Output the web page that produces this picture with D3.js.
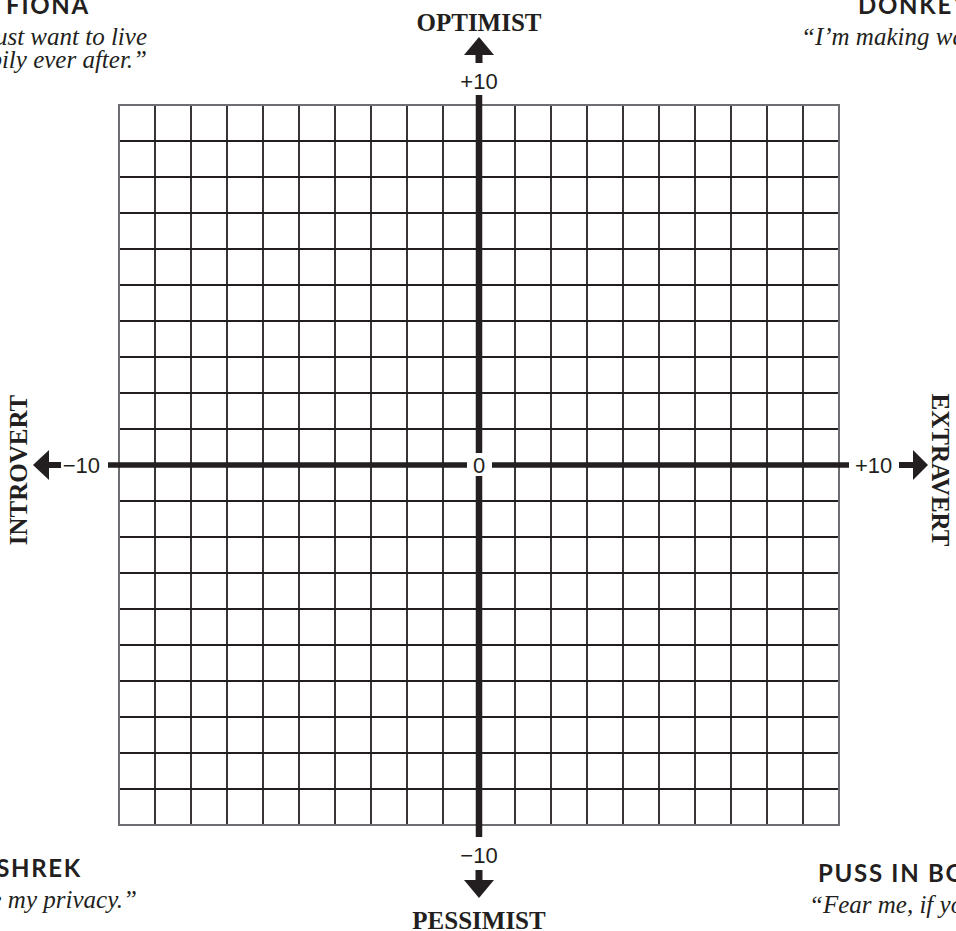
<!DOCTYPE html>
<html>
<head>
<meta charset="utf-8">
<script src="https://cdn.jsdelivr.net/npm/d3@7"></script>
<style>
  body { margin: 0; background: #fff; }
  svg { display: block; }
</style>
</head>
<body>
<script>
// grid values, one line per unit
const gridValues = [-10, -9, -8, -7, -6, -5, -4, -3, -2, -1, 0, 1, 2, 3, 4, 5, 6, 7, 8, 9, 10]
// end tick labels on each axis
const tickValues = [-10, 10]
const tickLabels = ["\u221210", "+10"]
const centerLabel = "0"
// pole names: top, bottom, left, right
const poleLabels = ["OPTIMIST", "PESSIMIST", "INTROVERT", "EXTRAVERT"]
// characters placed in the corners
const characters = ["FIONA", "DONKEY", "SHREK", "PUSS IN BOOTS"]
const quotes = [
  ["\u201CI just want to live", "happily ever after.\u201D"],
  ["\u201CI\u2019m making waffles!\u201D"],
  ["\u201CI like my privacy.\u201D"],
  ["\u201CFear me, if you dare!\u201D"]
]

const W = 956, H = 931
const margin = {top: 105, left: 119}
const size = 720
const ink = '#231f20'
const nameFont = 'Lato, "DejaVu Sans", sans-serif'
const quoteFont = '"Liberation Serif", serif'
const poleFont = '"Liberation Serif", serif'
const tickFont = '"Liberation Sans", Arial, sans-serif'

const x = d3.scaleLinear().domain([-10, 10]).range([margin.left, margin.left + size])
const y = d3.scaleLinear().domain([-10, 10]).range([margin.top + size, margin.top])

const svg = d3.select('body').append('svg')
  .attr('width', W)
  .attr('height', H)

// inner grid
const inner = gridValues.filter(v => Math.abs(v) < 10)
svg.append('g').selectAll('line')
  .data(inner)
  .enter().append('line')
  .attr('x1', d => x(d)).attr('x2', d => x(d))
  .attr('y1', y(10)).attr('y2', y(-10))
  .attr('stroke', ink).attr('stroke-width', 1.8)
svg.append('g').selectAll('line')
  .data(inner)
  .enter().append('line')
  .attr('y1', d => y(d)).attr('y2', d => y(d))
  .attr('x1', x(-10)).attr('x2', x(10))
  .attr('stroke', ink).attr('stroke-width', 1.8)

// grey border
svg.append('rect')
  .attr('x', x(-10)).attr('y', y(10))
  .attr('width', x(10) - x(-10)).attr('height', y(-10) - y(10))
  .attr('fill', 'none').attr('stroke', '#6d6e71').attr('stroke-width', 2)

// thick axes
svg.append('line')
  .attr('x1', x(0)).attr('x2', x(0))
  .attr('y1', y(10) - 10).attr('y2', y(-10) + 12)
  .attr('stroke', ink).attr('stroke-width', 6.5)
svg.append('line')
  .attr('y1', y(0)).attr('y2', y(0))
  .attr('x1', x(-10) - 11).attr('x2', x(10) + 10)
  .attr('stroke', ink).attr('stroke-width', 5.5)

// white box behind the 0
svg.append('rect')
  .attr('x', x(0) - 12).attr('y', y(0) - 12)
  .attr('width', 25).attr('height', 23)
  .attr('fill', '#fff')
svg.append('text')
  .attr('x', x(0)).attr('y', y(0) + 8)
  .attr('text-anchor', 'middle')
  .style('font', `22px ${tickFont}`).attr('fill', ink)
  .text(centerLabel)

// arrows
const arrows = svg.append('g').attr('fill', ink)
// up
arrows.append('rect').attr('x', x(0) - 3.5).attr('y', y(10) - 51).attr('width', 7).attr('height', 9)
arrows.append('path').attr('d', `M${x(0) - 15},${y(10) - 50} L${x(0) + 15},${y(10) - 50} L${x(0)},${y(10) - 68} Z`)
// down
arrows.append('rect').attr('x', x(0) - 3.5).attr('y', y(-10) + 45).attr('width', 7).attr('height', 11)
arrows.append('path').attr('d', `M${x(0) - 15},${y(-10) + 55} L${x(0) + 15},${y(-10) + 55} L${x(0)},${y(-10) + 73} Z`)
// left
arrows.append('rect').attr('x', x(-10) - 71).attr('y', y(0) - 3).attr('width', 13).attr('height', 6)
arrows.append('path').attr('d', `M${x(-10) - 70},${y(0) - 15} L${x(-10) - 70},${y(0) + 15} L${x(-10) - 86},${y(0)} Z`)
// right
arrows.append('rect').attr('x', x(10) + 60).attr('y', y(0) - 3).attr('width', 15).attr('height', 6)
arrows.append('path').attr('d', `M${x(10) + 74},${y(0) - 15} L${x(10) + 74},${y(0) + 15} L${x(10) + 89},${y(0)} Z`)

// end tick labels
const tickStyle = `22px ${tickFont}`
svg.append('text').attr('x', x(0)).attr('y', y(tickValues[1]) - 16)
  .attr('text-anchor', 'middle').style('font', tickStyle).attr('fill', ink).text(tickLabels[1])
svg.append('text').attr('x', x(0)).attr('y', y(tickValues[0]) + 38)
  .attr('text-anchor', 'middle').style('font', tickStyle).attr('fill', ink).text(tickLabels[0])
svg.append('text').attr('x', x(tickValues[0]) - 19).attr('y', y(0) + 8)
  .attr('text-anchor', 'end').style('font', tickStyle).attr('fill', ink).text(tickLabels[0])
svg.append('text').attr('x', x(tickValues[1]) + 16).attr('y', y(0) + 8)
  .attr('text-anchor', 'start').style('font', tickStyle).attr('fill', ink).text(tickLabels[1])

// pole names
const poleStyle = `bold 25px ${poleFont}`
svg.append('text').attr('x', x(0)).attr('y', 31)
  .attr('text-anchor', 'middle').style('font', poleStyle).attr('fill', ink).text(poleLabels[0])
svg.append('text').attr('x', x(0)).attr('y', 929)
  .attr('text-anchor', 'middle').style('font', poleStyle).attr('fill', ink).text(poleLabels[1])
svg.append('text')
  .attr('transform', `translate(27,${y(0) + 5}) rotate(-90)`)
  .attr('text-anchor', 'middle').style('font', poleStyle).attr('fill', ink).text(poleLabels[2])
svg.append('text')
  .attr('transform', `translate(932,${y(0) + 5}) rotate(90)`)
  .attr('text-anchor', 'middle').style('font', poleStyle).attr('fill', ink).text(poleLabels[3])

// character notes in the corners
const notePos = [
  {x: 48, y: 14, anchor: 'middle', qx: 147, qanchor: 'end'},
  {x: 858, y: 14, anchor: 'start', qx: 801},
  {x: 82, y: 877, anchor: 'end', qx: 137},
  {x: 818, y: 882, anchor: 'start', qx: 809}
]
characters.forEach((name, i) => {
  const p = notePos[i]
  svg.append('text')
    .attr('x', p.x).attr('y', p.y)
    .attr('text-anchor', p.anchor)
    .style('font', `bold 24px ${nameFont}`)
    .style('letter-spacing', '1.7px')
    .attr('fill', ink)
    .text(name)
  quotes[i].forEach((line, j) => {
    svg.append('text')
      .attr('x', p.qx)
      .attr('y', p.y + 31 + j * 23)
      .attr('text-anchor', p.qanchor || p.anchor)
      .style('font', `italic 25px ${quoteFont}`)
      .attr('fill', ink)
      .text(line)
  })
})
</script>
</body>
</html>
